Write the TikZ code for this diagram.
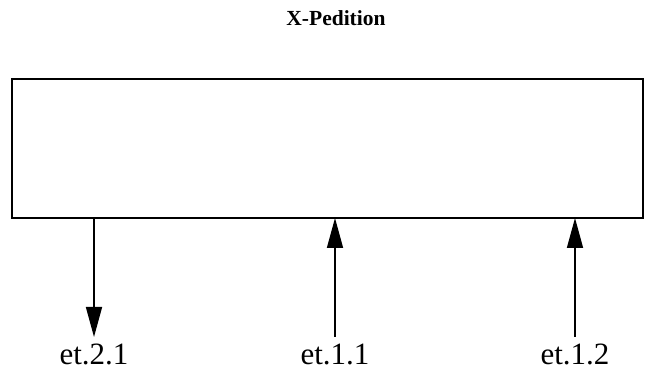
\documentclass[tikz,border=0pt]{standalone}
\usepackage{fontspec}
\setmainfont{Liberation Serif}
\usetikzlibrary{arrows.meta}
\begin{document}
\begin{tikzpicture}[x=1pt,y=1pt,
  box/.style={draw,line width=1.6pt,minimum width=631pt,minimum height=139pt,inner sep=0pt},
  lbl/.style={font=\fontsize{31}{31}\selectfont,anchor=base,inner sep=0pt},
  conn/.style={line width=1.6pt,-{Triangle[length=30pt,width=16pt]}},
  ttl/.style={font=\fontsize{21.5}{21.5}\selectfont\bfseries,anchor=base,inner sep=0pt}]
\useasboundingbox (0,0) rectangle (651,369);
\node[ttl] (title) at (336,343) {X-Pedition};
\node[box] (sys) at (327.5,220.5) {};
\coordinate (p1) at (94,151);
\coordinate (p2) at (335,151);
\coordinate (p3) at (575,151);
\coordinate (e1) at (94,32);
\coordinate (e2) at (335,32);
\coordinate (e3) at (575,32);
\node[lbl] (l1) at (94,4.5) {et.2.1};
\node[lbl] (l2) at (335,4.5) {et.1.1};
\node[lbl] (l3) at (575,4.5) {et.1.2};
\draw[conn] (p1) -- (e1);
\draw[conn] (e2) -- (p2);
\draw[conn] (e3) -- (p3);
\end{tikzpicture}
\end{document}
